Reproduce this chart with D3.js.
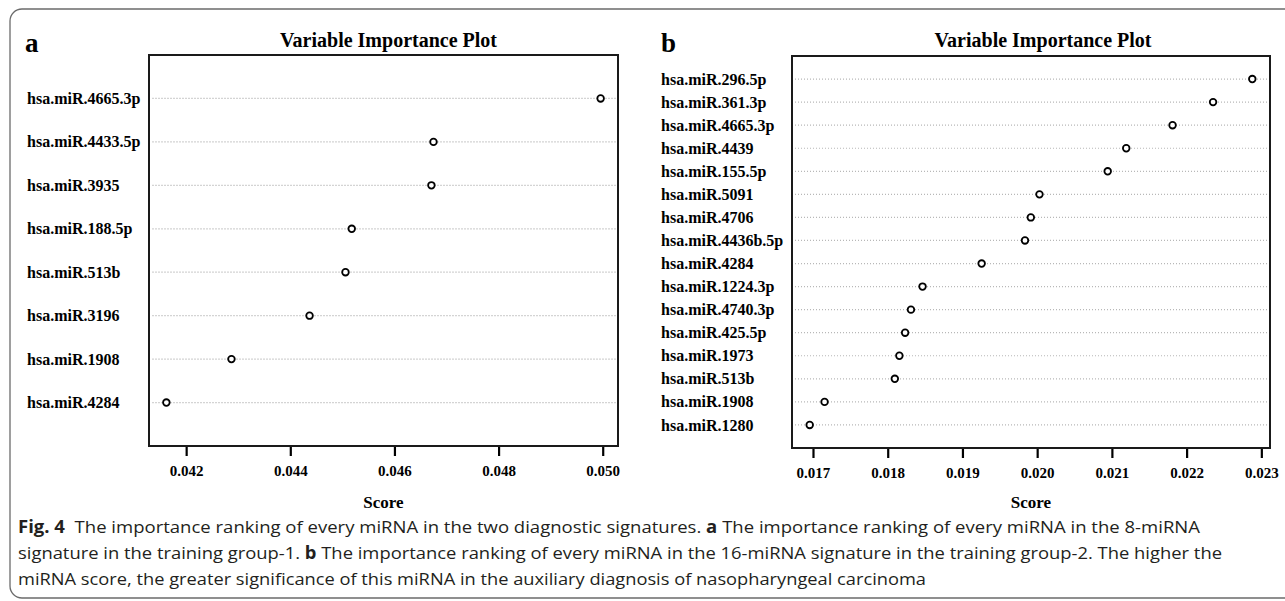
<!DOCTYPE html>
<html>
<head>
<meta charset="utf-8">
<script src="https://cdn.jsdelivr.net/npm/d3@7"></script>
<style>
  body { margin: 0; background: #fff; }
  svg { display: block; }
</style>
</head>
<body>
<svg id="fig" width="1285" height="601"></svg>
<script>
// panel a: 8-miRNA signature (top to bottom)
const aNames = ["hsa.miR.4665.3p", "hsa.miR.4433.5p", "hsa.miR.3935", "hsa.miR.188.5p",
                "hsa.miR.513b", "hsa.miR.3196", "hsa.miR.1908", "hsa.miR.4284"];
const aScores = [0.04996, 0.04675, 0.04671, 0.04518, 0.04506, 0.04437, 0.04287, 0.04162];
const aTicks = [0.042, 0.044, 0.046, 0.048, 0.050];

// panel b: 16-miRNA signature (top to bottom)
const bNames = ["hsa.miR.296.5p", "hsa.miR.361.3p", "hsa.miR.4665.3p", "hsa.miR.4439",
                "hsa.miR.155.5p", "hsa.miR.5091", "hsa.miR.4706", "hsa.miR.4436b.5p",
                "hsa.miR.4284", "hsa.miR.1224.3p", "hsa.miR.4740.3p", "hsa.miR.425.5p",
                "hsa.miR.1973", "hsa.miR.513b", "hsa.miR.1908", "hsa.miR.1280"];
const bScores = [0.022879, 0.022354, 0.021812, 0.021192, 0.020944, 0.020031, 0.019915, 0.019837,
                 0.019257, 0.018466, 0.018311, 0.018233, 0.018156, 0.018095, 0.017155, 0.016956];
const bTicks = [0.017, 0.018, 0.019, 0.020, 0.021, 0.022, 0.023];

const captionLines = [
  [["Fig. 4", true], ["  The importance ranking of every miRNA in the two diagnostic signatures. ", false],
   ["a", true], [" The importance ranking of every miRNA in the 8-miRNA", false]],
  [["signature in the training group-1. ", false], ["b", true],
   [" The importance ranking of every miRNA in the 16-miRNA signature in the training group-2. The higher the", false]],
  [["miRNA score, the greater significance of this miRNA in the auxiliary diagnosis of nasopharyngeal carcinoma", false]]
];

const svg = d3.select("#fig");
const serif = "'Liberation Serif', 'Times New Roman', serif";

// outer frame of the figure
svg.append("path")
  .attr("d", "M1285,9 H22 A12,12 0 0 0 10,21 V586 A12,12 0 0 0 22,598 H1285")
  .attr("fill", "none")
  .attr("stroke", "#6b6b6b")
  .attr("stroke-width", 1.3);

function panel(opt) {
  const data = opt.names.map((n, i) => ({name: n, score: opt.scores[i]}));
  const ext = d3.extent(opt.scores);
  const pad = (ext[1] - ext[0]) * 0.04;   // same stretch as R dotchart

  const x = d3.scaleLinear().domain([ext[0] - pad, ext[1] + pad]).range([opt.left, opt.right]);
  const y = d3.scalePoint().domain(opt.names).range([opt.top, opt.bottom]).padding(1);

  const g = svg.append("g");

  g.append("text")
    .attr("x", opt.letterX).attr("y", 52)
    .attr("font-family", serif).attr("font-weight", "bold").attr("font-size", 27)
    .text(opt.letter);

  g.append("text")
    .attr("x", (opt.left + opt.right) / 2 + opt.titleShift).attr("y", 47)
    .attr("text-anchor", "middle")
    .attr("font-family", serif).attr("font-weight", "bold").attr("font-size", 20)
    .text("Variable Importance Plot");

  // dotted guide lines
  g.append("g").selectAll("line")
    .data(data)
    .join("line")
      .attr("x1", opt.left + 3).attr("x2", opt.right - 1)
      .attr("y1", d => y(d.name)).attr("y2", d => y(d.name))
      .attr("stroke", opt.gridColor)
      .attr("stroke-width", 1.2)
      .attr("stroke-dasharray", opt.dash);

  g.append("rect")
    .attr("x", opt.left).attr("y", opt.top)
    .attr("width", opt.right - opt.left).attr("height", opt.bottom - opt.top)
    .attr("fill", "none").attr("stroke", "#1a1a1a").attr("stroke-width", 2);

  g.append("g").selectAll("circle")
    .data(data)
    .join("circle")
      .attr("cx", d => x(d.score))
      .attr("cy", d => y(d.name))
      .attr("r", 3.3)
      .attr("fill", "#fff")
      .attr("stroke", "#000")
      .attr("stroke-width", 1.8);

  // row labels, left aligned
  g.append("g").selectAll("text")
    .data(data)
    .join("text")
      .attr("x", opt.labelX)
      .attr("y", d => y(d.name))
      .attr("dy", "0.35em")
      .attr("font-family", serif).attr("font-weight", "bold").attr("font-size", 16)
      .text(d => d.name);

  const axis = d3.axisBottom(x)
    .tickValues(opt.ticks)
    .tickFormat(d3.format(".3f"))
    .tickSize(9)
    .tickPadding(9);

  const ax = g.append("g")
    .attr("transform", `translate(0,${opt.bottom + 1})`)
    .call(axis);
  ax.select(".domain").remove();
  ax.selectAll(".tick line").attr("stroke", "#000").attr("stroke-width", 2.2);
  ax.selectAll(".tick text")
    .attr("font-family", serif).attr("font-weight", "bold").attr("font-size", 15)
    .attr("fill", "#000");

  g.append("text")
    .attr("x", (opt.left + opt.right) / 2).attr("y", 508)
    .attr("text-anchor", "middle")
    .attr("font-family", serif).attr("font-weight", "bold").attr("font-size", 17)
    .text("Score");
}

panel({
  letter: "a", letterX: 25, labelX: 27, titleShift: 5,
  names: aNames, scores: aScores, ticks: aTicks,
  left: 149, right: 618, top: 55, bottom: 446,
  gridColor: "#d4d4d4", dash: "2,1"
});

panel({
  letter: "b", letterX: 661, labelX: 661, titleShift: 12,
  names: bNames, scores: bScores, ticks: bTicks,
  left: 792, right: 1270, top: 56, bottom: 448,
  gridColor: "#b8b8b8", dash: "1,2"
});

// figure caption
const capY = [533, 559, 585];
const capRight = [1200, 1222, 926];
captionLines.forEach((parts, i) => {
  const t = svg.append("text")
    .attr("x", 18).attr("y", capY[i])
    .attr("font-family", "'Open Sans', 'Noto Sans', sans-serif")
    .attr("font-size", 17)
    .attr("fill", "#231f20")
    .attr("textLength", capRight[i] - 18)
    .attr("lengthAdjust", "spacingAndGlyphs");
  parts.forEach(p => {
    t.append("tspan")
      .attr("font-weight", p[1] ? "bold" : "normal")
      .attr("xml:space", "preserve")
      .text(p[0]);
  });
});
</script>
</body>
</html>
